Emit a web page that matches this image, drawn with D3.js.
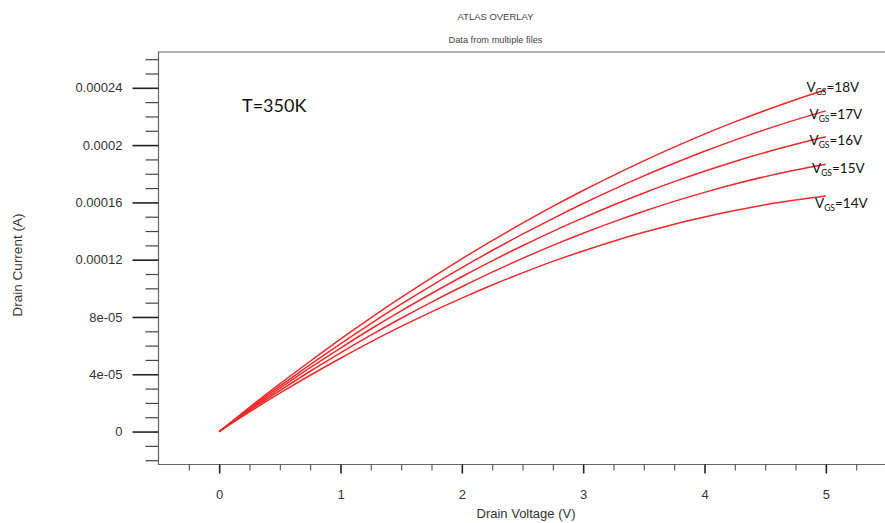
<!DOCTYPE html>
<html>
<head>
<meta charset="utf-8">
<script src="https://cdn.jsdelivr.net/npm/d3@7"></script>
<style>
  html, body { margin: 0; padding: 0; background: #fff; }
  svg { display: block; }
</style>
</head>
<body>
<svg id="chart" width="885" height="523"></svg>
<script>
// Drain voltage sweep (V)
const drainVoltage = [0, 0.25, 0.5, 0.75, 1, 1.25, 1.5, 1.75, 2, 2.25, 2.5, 2.75, 3, 3.25, 3.5, 3.75, 4, 4.25, 4.5, 4.75, 5];

// Drain current (A) for each gate voltage
const id18 = [0, 1.69e-5, 3.33e-5, 4.91e-5, 6.45e-5, 7.93e-5, 9.36e-5, 1.073e-4, 1.206e-4, 1.333e-4, 1.455e-4, 1.572e-4, 1.683e-4, 1.789e-4, 1.890e-4, 1.986e-4, 2.077e-4, 2.162e-4, 2.242e-4, 2.317e-4, 2.387e-4];
const id17 = [0, 1.61e-5, 3.17e-5, 4.68e-5, 6.13e-5, 7.54e-5, 8.89e-5, 1.019e-4, 1.144e-4, 1.264e-4, 1.378e-4, 1.487e-4, 1.592e-4, 1.691e-4, 1.785e-4, 1.873e-4, 1.957e-4, 2.035e-4, 2.108e-4, 2.176e-4, 2.239e-4];
const id16 = [0, 1.54e-5, 3.02e-5, 4.46e-5, 5.83e-5, 7.16e-5, 8.43e-5, 9.64e-5, 1.081e-4, 1.192e-4, 1.297e-4, 1.398e-4, 1.492e-4, 1.582e-4, 1.666e-4, 1.745e-4, 1.818e-4, 1.886e-4, 1.949e-4, 2.006e-4, 2.058e-4];
const id15 = [0, 1.46e-5, 2.86e-5, 4.21e-5, 5.50e-5, 6.73e-5, 7.91e-5, 9.04e-5, 1.011e-4, 1.113e-4, 1.209e-4, 1.300e-4, 1.385e-4, 1.464e-4, 1.538e-4, 1.607e-4, 1.670e-4, 1.728e-4, 1.780e-4, 1.826e-4, 1.867e-4];
const id14 = [0, 1.37e-5, 2.68e-5, 3.93e-5, 5.12e-5, 6.26e-5, 7.34e-5, 8.36e-5, 9.32e-5, 1.023e-4, 1.108e-4, 1.188e-4, 1.261e-4, 1.329e-4, 1.391e-4, 1.448e-4, 1.498e-4, 1.543e-4, 1.583e-4, 1.616e-4, 1.644e-4];

const seriesValues = [id18, id17, id16, id15, id14];
const gateVoltages = ["18V", "17V", "16V", "15V", "14V"];

// Axis ticks
const xTickValues = [0, 1, 2, 3, 4, 5];
const xTickLabels = ["0", "1", "2", "3", "4", "5"];
const yTickValues = [0, 4e-5, 8e-5, 1.2e-4, 1.6e-4, 2e-4, 2.4e-4];
const yTickLabels = ["0", "4e-05", "8e-05", "0.00012", "0.00016", "0.0002", "0.00024"];

const svg = d3.select("#chart");

const plot = { left: 158.5, right: 886.5, top: 52, bottom: 464.5 };

const x = d3.scaleLinear().domain([-0.5, 5.5]).range([plot.left, plot.right]);
const y = d3.scaleLinear().domain([-2.3e-5, 2.65e-4]).range([plot.bottom, plot.top]);

const axisFont = "'Liberation Sans', Arial, sans-serif";
const labelFont = "Lato, 'Open Sans', sans-serif";

// Titles
svg.append("text")
  .attr("x", 495.5).attr("y", 20)
  .attr("text-anchor", "middle")
  .attr("font-family", axisFont).attr("font-size", 9.5)
  .attr("fill", "#444")
  .attr("textLength", 76).attr("lengthAdjust", "spacingAndGlyphs")
  .text("ATLAS OVERLAY");
svg.append("text")
  .attr("x", 495.5).attr("y", 43)
  .attr("text-anchor", "middle")
  .attr("font-family", axisFont).attr("font-size", 9.5)
  .attr("fill", "#444")
  .attr("textLength", 94).attr("lengthAdjust", "spacingAndGlyphs")
  .text("Data from multiple files");

// Plot frame (right side runs past the page edge)
svg.append("path")
  .attr("d", `M${plot.right + 10},${plot.top}H${plot.left}V${plot.bottom}H${plot.right + 10}`)
  .attr("fill", "none")
  .attr("stroke", "#666")
  .attr("stroke-width", 1.2);

// Y axis: major ticks with labels, minor ticks between
const yAxis = d3.axisLeft(y)
  .tickValues(yTickValues)
  .tickSize(26)
  .tickPadding(10)
  .tickFormat((d, i) => yTickLabels[i]);
const gy = svg.append("g").attr("transform", `translate(${plot.left},0)`).call(yAxis);
gy.select(".domain").remove();
gy.selectAll(".tick line").attr("stroke", "#222").attr("stroke-width", 1.6);
gy.selectAll(".tick text")
  .attr("font-family", axisFont).attr("font-size", 13).attr("fill", "#333");

const yMinor = d3.range(-2, 27).map(k => k * 1e-5).filter(v => Math.round(v * 1e5) % 4 !== 0);
const gym = svg.append("g").attr("transform", `translate(${plot.left},0)`)
  .call(d3.axisLeft(y).tickValues(yMinor).tickSize(13).tickFormat(""));
gym.select(".domain").remove();
gym.selectAll(".tick line").attr("stroke", "#444").attr("stroke-width", 1.2);

// X axis
const xAxis = d3.axisBottom(x)
  .tickValues(xTickValues)
  .tickSize(9)
  .tickPadding(16)
  .tickFormat((d, i) => xTickLabels[i]);
const gx = svg.append("g").attr("transform", `translate(0,${plot.bottom})`).call(xAxis);
gx.select(".domain").remove();
gx.selectAll(".tick line").attr("stroke", "#222").attr("stroke-width", 1.6);
gx.selectAll(".tick text")
  .attr("font-family", axisFont).attr("font-size", 13).attr("fill", "#333");

const xMinor = d3.range(-1, 22).map(k => k * 0.25).filter(v => v % 1 !== 0);
const gxm = svg.append("g").attr("transform", `translate(0,${plot.bottom})`)
  .call(d3.axisBottom(x).tickValues(xMinor).tickSize(6).tickFormat(""));
gxm.select(".domain").remove();
gxm.selectAll(".tick line").attr("stroke", "#555").attr("stroke-width", 1.1);

// Axis titles
svg.append("text")
  .attr("x", 526).attr("y", 518)
  .attr("text-anchor", "middle")
  .attr("font-family", axisFont).attr("font-size", 13).attr("fill", "#333")
  .text("Drain Voltage (V)");
svg.append("text")
  .attr("transform", "translate(22,265) rotate(-90)")
  .attr("text-anchor", "middle")
  .attr("font-family", axisFont).attr("font-size", 13.5).attr("fill", "#333")
  .text("Drain Current (A)");

// Curves
const line = d3.line()
  .x((d, i) => x(drainVoltage[i]))
  .y(d => y(d))
  .curve(d3.curveMonotoneX);

svg.append("g")
  .selectAll("path")
  .data(seriesValues)
  .join("path")
  .attr("d", line)
  .attr("fill", "none")
  .attr("stroke", "#ee2a2a")
  .attr("stroke-width", 1.5);

// Temperature annotation
svg.append("text")
  .attr("x", 242).attr("y", 111.5)
  .attr("font-family", labelFont).attr("font-size", 18).attr("fill", "#111")
  .text("T=350K");

// Gate voltage labels at the end of each curve
const labelPos = [[806.5, 92], [809.5, 119], [809.5, 145], [812, 173], [815, 208]];
const labels = svg.append("g")
  .selectAll("text")
  .data(gateVoltages)
  .join("text")
  .attr("x", (d, i) => labelPos[i][0])
  .attr("y", (d, i) => labelPos[i][1])
  .attr("font-family", labelFont).attr("font-size", 13.5).attr("fill", "#111");
labels.append("tspan").text("V");
labels.append("tspan").attr("font-size", 8.5).attr("dy", 3).text("GS");
labels.append("tspan").attr("dy", -3).text(d => "=" + d);
</script>
</body>
</html>
